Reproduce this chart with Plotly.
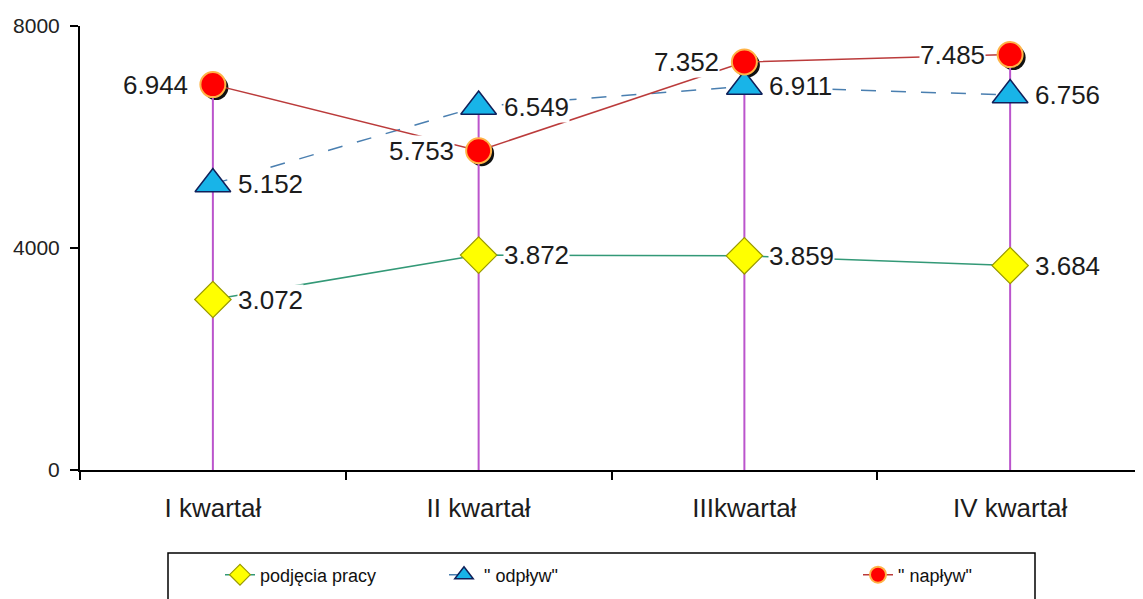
import plotly.graph_objects as go

categories = ["I kwartał", "II kwartał", "IIIkwartał", "IV kwartał"]
podjecia = [3072, 3872, 3859, 3684]
odplyw = [5152, 6549, 6911, 6756]
naplyw = [6944, 5753, 7352, 7485]
series_names = ["podjęcia pracy", "\" odpływ\"", "\" napływ\""]
y_ticks = [0, 4000, 8000]

# page body has an 8px margin, so the figure is sized to fit the window
OFF = 8
W, H = 1143 - OFF, 599 - OFF
ML, MR, MT, MB = 80 - OFF, 0, 26 - OFF, 129
PW, PH = W - ML - MR, H - MT - MB
YMAX = 8000


def fmt(v):
    return f"{v:,}".replace(",", ".")


fig = go.Figure()

# shadow of the circles, drawn on a hidden base axis shifted a few pixels
dx, dy = 3, 3
fig.add_trace(go.Scatter(
    x=categories, y=naplyw, mode="markers", xaxis="x", yaxis="y",
    marker=dict(symbol="circle", size=25, color="#111111"),
    showlegend=False, hoverinfo="skip"))

# drop lines from 0 to the highest value of each category
drop_x, drop_y = [], []
for i, c in enumerate(categories):
    drop_x += [c, c, None]
    drop_y += [0, max(podjecia[i], odplyw[i], naplyw[i]), None]
fig.add_trace(go.Scatter(
    x=drop_x, y=drop_y, mode="lines", xaxis="x2", yaxis="y2",
    line=dict(color="#bb55cc", width=2), showlegend=False, hoverinfo="skip"))

fig.add_trace(go.Scatter(
    x=categories, y=podjecia, name=series_names[0], mode="lines+markers",
    xaxis="x2", yaxis="y2", legend="legend",
    line=dict(color="#339977", width=1.5),
    marker=dict(symbol="diamond", size=28, color="#ffff00",
                line=dict(color="#9a9a00", width=1.2))))
fig.add_trace(go.Scatter(
    x=categories, y=odplyw, name=series_names[1], mode="lines+markers",
    xaxis="x2", yaxis="y2", legend="legend2",
    line=dict(color="#4a7fb0", width=1.5, dash="longdash"),
    marker=dict(symbol="triangle-up", size=31, color="#18b4e8",
                line=dict(color="#10205a", width=1.5))))
fig.add_trace(go.Scatter(
    x=categories, y=naplyw, name=series_names[2], mode="lines+markers",
    xaxis="x2", yaxis="y2", legend="legend3",
    line=dict(color="#bb3b3b", width=1.5),
    marker=dict(symbol="circle", size=25, color="#ff0000",
                line=dict(color="#ffb347", width=2))))

label_font = dict(family="Liberation Sans, Arial, sans-serif", size=26, color="#1c1c1c")
annotations = []
for vals, side in ((podjecia, 1), (odplyw, 1), (naplyw, -1)):
    for c, v in zip(categories, vals):
        annotations.append(dict(
            x=c, y=v, xref="x2", yref="y2", text=fmt(v), showarrow=False,
            xanchor="left" if side > 0 else "right", yanchor="middle",
            xshift=24 * side, font=label_font, bgcolor="white", borderpad=0))


# helpers converting window pixels to paper coordinates
def px_x(p):
    return (p - OFF - ML) / PW


def px_y(p):
    return (MT + PH - (p - OFF)) / PH


shapes = [dict(type="rect", xref="paper", yref="paper",
               x0=px_x(168), x1=px_x(1035), y0=px_y(640), y1=px_y(553),
               line=dict(color="black", width=1.5), fillcolor="rgba(0,0,0,0)")]

leg_font = dict(family="Liberation Sans Narrow, Arial Narrow, Liberation Sans, sans-serif",
                size=18, color="#111111")
leg_common = dict(orientation="h", xanchor="left", yanchor="middle",
                  y=px_y(575), font=leg_font, bgcolor="rgba(0,0,0,0)", borderwidth=0)

fig.update_layout(
    width=W, height=H,
    margin=dict(l=ML, r=MR, t=MT, b=MB, autoexpand=False),
    paper_bgcolor="white", plot_bgcolor="white",
    showlegend=True,
    legend=dict(x=px_x(220), **leg_common),
    legend2=dict(x=px_x(444), **leg_common),
    legend3=dict(x=px_x(858), **leg_common),
    xaxis=dict(type="category", categoryorder="array", categoryarray=categories,
               range=[-0.5 - dx * len(categories) / PW, len(categories) - 0.5 - dx * len(categories) / PW],
               visible=False, showgrid=False, zeroline=False),
    yaxis=dict(range=[dy * YMAX / PH, YMAX + dy * YMAX / PH],
               visible=False, showgrid=False, zeroline=False),
    xaxis2=dict(type="category", categoryorder="array", categoryarray=categories,
                overlaying="x", anchor="y2", range=[-0.5, len(categories) - 0.5],
                showline=True, linecolor="black", linewidth=2,
                ticks="outside", tickson="boundaries", ticklen=8, tickwidth=2,
                tickcolor="black", showgrid=False, zeroline=False,
                ticklabelstandoff=14,
                tickfont=dict(family="Liberation Sans, Arial, sans-serif", size=26, color="#1c1c1c")),
    yaxis2=dict(overlaying="y", anchor="x2", range=[0, YMAX], tickvals=y_ticks,
                showline=True, linecolor="black", linewidth=2,
                ticks="outside", ticklen=8, tickwidth=2, tickcolor="black",
                showgrid=False, zeroline=False, ticklabelstandoff=6,
                tickfont=dict(family="Liberation Sans, Arial, sans-serif", size=21, color="#222222")),
    annotations=annotations,
    shapes=shapes,
)

fig.write_html("out.html")
